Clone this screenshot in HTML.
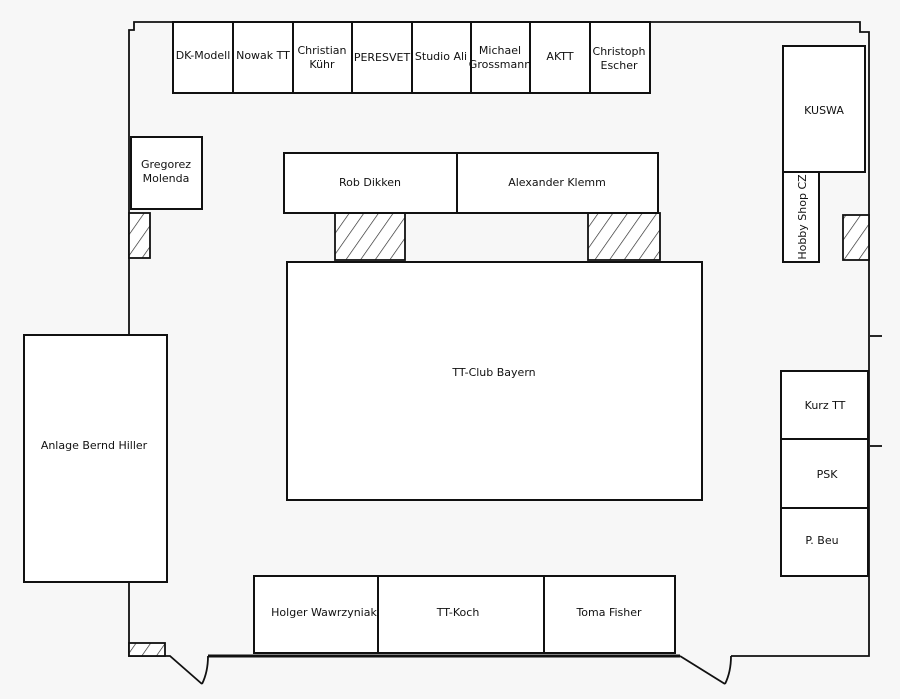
<!DOCTYPE html>
<html><head><meta charset="utf-8"><style>
html,body{margin:0;padding:0;background:#f7f7f7}
svg{display:block}
text{font-family:"DejaVu Sans","Liberation Sans",sans-serif;font-size:11px;fill:#111;text-anchor:middle;dominant-baseline:middle}
</style></head><body>
<svg width="900" height="699" viewBox="0 0 900 699" xmlns="http://www.w3.org/2000/svg">
<defs>
<pattern id="h" patternUnits="userSpaceOnUse" width="12" height="12" patternTransform="rotate(35)">
<rect width="12" height="12" fill="#fff"/><line x1="0" y1="0" x2="0" y2="12" stroke="#222" stroke-width="1.3"/>
</pattern>
</defs>
<g fill="none" stroke="#111" stroke-width="1.8">
<polyline points="129,335 129,30 134,30 134,22 860,22 860,32 869,32 869,656 731,656"/>
<polyline points="129,582 129,656 170,656 202,684"/>
<path d="M202,684 Q208,672 208,656"/>
<line x1="208" y1="656" x2="680" y2="656" stroke-width="3"/>
<line x1="680" y1="656" x2="725" y2="684"/>
<path d="M725,684 Q731,672 731,656"/>
<line x1="870" y1="336" x2="882" y2="336"/>
<line x1="870" y1="446" x2="882" y2="446"/>
</g>
<g stroke="#111" stroke-width="1.8">
<rect x="129" y="213" width="21" height="45" fill="url(#h)"/>
<rect x="843" y="215" width="26" height="45" fill="url(#h)"/>
<rect x="335" y="213" width="70" height="47" fill="url(#h)"/>
<rect x="588" y="213" width="72" height="47" fill="url(#h)"/>
<rect x="129" y="643" width="36" height="13" fill="url(#h)"/>
</g>
<g fill="#fff" stroke="#111" stroke-width="2">
<rect x="173" y="22" width="60" height="71"/>
<rect x="233" y="22" width="60" height="71"/>
<rect x="293" y="22" width="59" height="71"/>
<rect x="352" y="22" width="60" height="71"/>
<rect x="412" y="22" width="59" height="71"/>
<rect x="471" y="22" width="59" height="71"/>
<rect x="530" y="22" width="60" height="71"/>
<rect x="590" y="22" width="60" height="71"/>
<rect x="131" y="137" width="71" height="72"/>
<rect x="284" y="153" width="173" height="60"/>
<rect x="457" y="153" width="201" height="60"/>
<rect x="287" y="262" width="415" height="238"/>
<rect x="783" y="46" width="82" height="126"/>
<rect x="783" y="172" width="36" height="90"/>
<rect x="24" y="335" width="143" height="247"/>
<rect x="781" y="371" width="87" height="68"/>
<rect x="781" y="439" width="87" height="69"/>
<rect x="781" y="508" width="87" height="68"/>
<rect x="254" y="576" width="124" height="77"/>
<rect x="378" y="576" width="166" height="77"/>
<rect x="544" y="576" width="131" height="77"/>
</g>
<text x="203" y="56">DK-Modell</text>
<text x="263" y="56">Nowak TT</text>
<text x="322" y="51">Christian</text><text x="322" y="65">Kühr</text>
<text x="382" y="58">PERESVET</text>
<text x="441" y="57">Studio Ali</text>
<text x="500" y="51">Michael</text><text x="500" y="65">Grossmann</text>
<text x="560" y="57">AKTT</text>
<text x="619" y="52">Christoph</text><text x="619" y="66">Escher</text>
<text x="166" y="165">Gregorez</text><text x="166" y="179">Molenda</text>
<text x="370" y="183">Rob Dikken</text>
<text x="557" y="183">Alexander Klemm</text>
<text x="494" y="373">TT-Club Bayern</text>
<text x="824" y="111">KUSWA</text>
<text transform="translate(803,217) rotate(-90)">Hobby Shop CZ</text>
<text x="94" y="446">Anlage Bernd Hiller</text>
<text x="825" y="406">Kurz TT</text>
<text x="827" y="475">PSK</text>
<text x="822" y="541">P. Beu</text>
<text x="324" y="613">Holger Wawrzyniak</text>
<text x="458" y="613">TT-Koch</text>
<text x="609" y="613">Toma Fisher</text>
</svg>
</body></html>
